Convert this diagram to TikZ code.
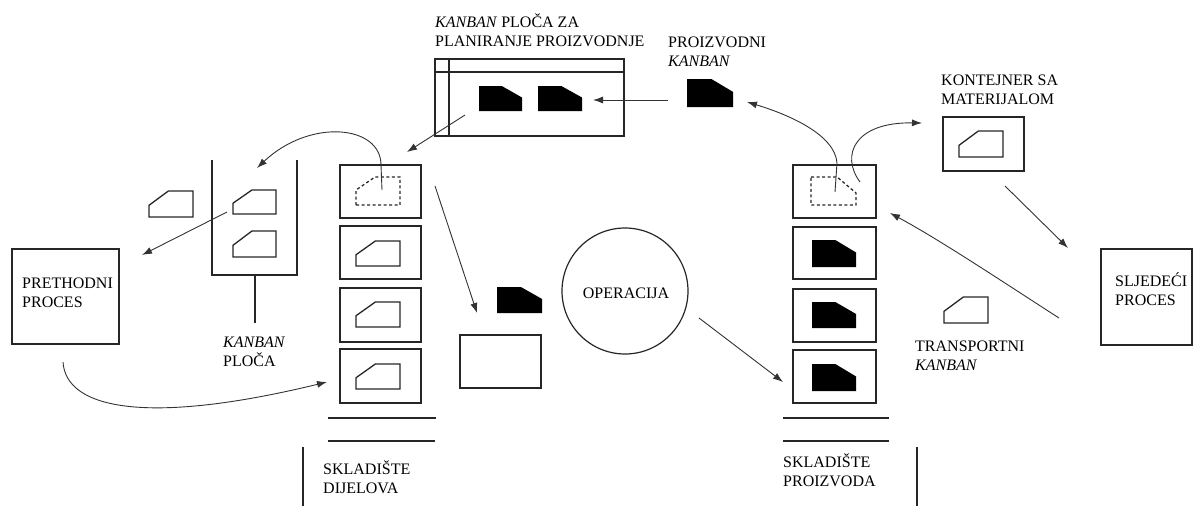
\documentclass[tikz,border=0pt]{standalone}
\usepackage{fontspec}
\setmainfont{Liberation Serif}
\usetikzlibrary{arrows.meta}
\newcommand{\bx}[5]{\node[box, anchor=north west, minimum width={(#4-#2)*1pt}, minimum height={(#5-#3)*1pt}] (#1) at (#2,#3) {};}
% filled kanban, chamfer top-right
\newcommand{\kfilled}[4]{\fill[black] (#1,#2) -- ({#1+0.53*(#3-#1)},#2) -- (#3,{#2+0.46*(#4-#2)}) -- (#3,#4) -- (#1,#4) -- cycle;}
% outline kanban, chamfer top-left
\newcommand{\koutline}[5][]{\draw[kline,#1] (#2,#5) -- (#2,{#3+0.55*(#5-#3)}) -- ({#2+0.44*(#4-#2)},#3) -- (#4,#3) -- (#4,#5) -- cycle;}
% dashed kanban, chamfer top-right
\newcommand{\kdashR}[4]{\draw[kline,dash pattern=on 3pt off 2.5pt] (#1,#2) -- ({#1+0.58*(#3-#1)},#2) -- (#3,{#2+0.57*(#4-#2)}) -- (#3,#4) -- (#1,#4) -- cycle;}
\begin{document}
\begin{tikzpicture}[x=1pt,y=-1pt,
  box/.style={draw=black!85, line width=1.4pt, inner sep=0pt, outer sep=0pt},
  lineb/.style={draw=black!85, line width=1.4pt},
  kline/.style={draw=black!85, line width=1.3pt, line join=miter},
  arr/.style={draw=black!80, line width=0.9pt, -{Latex[length=10pt,width=7pt]}},
  lbl/.style={font=\fontsize{16}{19}\selectfont, inner sep=0pt, align=left, anchor=west, text=black}]
\useasboundingbox (0,0) rectangle (1194,506);

% ---------- plan board ----------
\bx{plan}{435}{59}{624}{136}
\draw[lineb] (435,72) -- (624,72);
\draw[lineb] (449,59) -- (449,136);
\kfilled{479}{86}{522}{111}
\kfilled{538}{86}{582}{111}
\node[lbl] (plantxt) at (435,30) {\textit{KANBAN} PLOČA ZA\\PLANIRANJE PROIZVODNJE};

% ---------- proizvodni kanban ----------
\kfilled{687}{79}{733}{107}
\node[lbl] (prodtxt) at (668,51.5) {PROIZVODNI\\\textit{KANBAN}};

% ---------- kanban board ----------
\draw[lineb] (212,160) -- (212,275) -- (297,275) -- (297,160);
\draw[lineb] (255,275) -- (255,323);
\koutline{233}{190}{276}{214}
\koutline{233}{231}{276}{257}
\koutline{149}{191}{193}{217}
\node[lbl] (boardtxt) at (223,352) {\textit{KANBAN}\\PLOČA};

% ---------- prethodni proces ----------
\bx{prev}{12}{249}{119}{344}
\node[lbl] (prevtxt) at (22,293) {PRETHODNI\\PROCES};

% ---------- left stack ----------
\bx{ls1}{340}{165}{421}{218}
\bx{ls2}{340}{226}{421}{279}
\bx{ls3}{340}{288}{421}{342}
\bx{ls4}{340}{349}{421}{403}
\draw[kline,dash pattern=on 3pt off 2.5pt] (356,205) -- (356,190) -- (375,177) -- (400,177) -- (400,205) -- cycle;
\koutline{356}{241}{400}{266}
\koutline{356}{302}{400}{327}
\koutline{356}{364}{400}{389}
\draw[lineb] (328,418) -- (436,418);
\draw[lineb] (328,441) -- (435,441);
\draw[lineb] (303,447) -- (303,506);
\node[lbl] (lstxt) at (323,477) {SKLADIŠTE\\DIJELOVA};

% ---------- middle ----------
\kfilled{497}{287}{542}{313}
\bx{mid}{460}{335}{541}{388}
\node[circle, draw=black!85, line width=1.2pt, minimum size=126pt, inner sep=0pt] (op) at (625,291) {};
\node[font=\fontsize{16}{19}\selectfont, inner sep=0pt] (optxt) at (626,293) {OPERACIJA};

% ---------- right stack ----------
\bx{rs1}{793}{165}{876}{218}
\bx{rs2}{793}{227}{876}{279}
\bx{rs3}{793}{289}{876}{342}
\bx{rs4}{793}{350}{876}{403}
\kdashR{811}{177}{856}{205}
\kfilled{812}{240}{856}{267}
\kfilled{812}{302}{856}{328}
\kfilled{812}{364}{856}{391}
\draw[lineb] (783,418) -- (889,418);
\draw[lineb] (783,441) -- (889,441);
\draw[lineb] (917,447) -- (917,506);
\node[lbl] (rstxt) at (783,470.5) {SKLADIŠTE\\PROIZVODA};

% ---------- kontejner ----------
\bx{cont}{943}{117}{1024}{171}
\koutline{959}{131}{1003}{157}
\node[lbl] (conttxt) at (941,90) {KONTEJNER SA\\MATERIJALOM};

% ---------- transportni kanban ----------
\koutline{944}{297}{988}{323}
\node[lbl] (trtxt) at (915,355.5) {TRANSPORTNI\\\textit{KANBAN}};

% ---------- sljedeci proces ----------
\bx{next}{1101}{249}{1192}{345}
\node[lbl] (nexttxt) at (1115,289.5) {SLJEDEĆI\\PROCES};

% ---------- connector end points ----------
\coordinate (a1s) at (668,100); \coordinate (a1e) at (593,100);
\coordinate (a2s) at (465,115); \coordinate (a2e) at (407,152);
\coordinate (a3s) at (382,190); \coordinate (a3m) at (381,165); \coordinate (a3e) at (257,168);
\coordinate (a4s) at (227,212); \coordinate (a4e) at (142,255);
\coordinate (a5s) at (63,362);  \coordinate (a5e) at (327,382);
\coordinate (a6s) at (435,186); \coordinate (a6e) at (477,313);
\coordinate (a7s) at (699,318); \coordinate (a7e) at (783,382);
\coordinate (a8s) at (835,192); \coordinate (a8m) at (837,163); \coordinate (a8e) at (747,102);
\coordinate (a9s) at (860,182); \coordinate (a9e) at (922,123);
\coordinate (a10s) at (1005,186); \coordinate (a10e) at (1068,248);
\coordinate (a11s) at (1059,318); \coordinate (a11e) at (890,213);

\draw[arr] (a1s) -- (a1e);
\draw[arr] (a2s) -- (a2e);
\draw[arr] (a3s) -- (a3m) .. controls (381,125) and (310,118) .. (a3e);
\draw[arr] (a4s) -- (a4e);
\draw[arr] (a5s) .. controls (66,410) and (150,425) .. (a5e);
\draw[arr] (a6s) -- (a6e);
\draw[arr] (a7s) -- (a7e);
\draw[arr] (a8s) -- (a8m) .. controls (835,135) and (790,115) .. (a8e);
\draw[arr] (a9s) .. controls (840,155) and (855,122) .. (a9e);
\draw[arr] (a10s) -- (a10e);
\draw[arr] (a11s) .. controls (1000,280) and (940,240) .. (a11e);
\end{tikzpicture}
\end{document}
